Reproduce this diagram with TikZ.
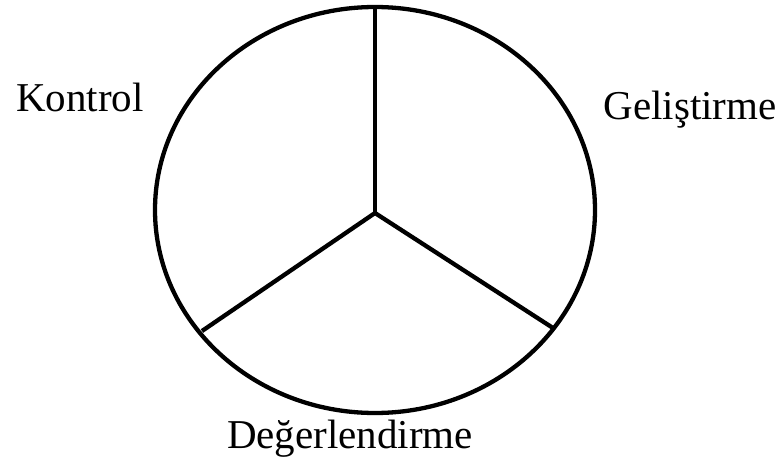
\documentclass[tikz,border=0pt]{standalone}
\usepackage{fontspec}
\setmainfont{Liberation Serif}
\usetikzlibrary{positioning}

\begin{document}
\begin{tikzpicture}[x=1pt, y=-1pt,
    rim/.style={line width=4.3pt, black},
    spoke/.style={line width=4.3pt, black},
    phase/.style={font=\fontsize{41}{48}\selectfont, anchor=base, inner sep=0pt}
]
\useasboundingbox (0,0) rectangle (779,468);
% wheel
\draw[rim] (375,210) ellipse [x radius=220pt, y radius=203pt];
\coordinate (hub) at (375,213);
\coordinate (up) at (375,7);
\coordinate (left) at (202,331);
\coordinate (right) at (553,328);
\draw[spoke] (hub) -- (up);
\draw[spoke] (hub) -- (left);
\draw[spoke] (hub) -- (right);
% labels
\node[phase] (kontrol) at (80,112) {Kontrol};
\node[phase] (gelistirme) at (690,120) {Geliştirme};
\node[phase] (degerlendirme) at (350,448) {Değerlendirme};
\end{tikzpicture}
\end{document}
